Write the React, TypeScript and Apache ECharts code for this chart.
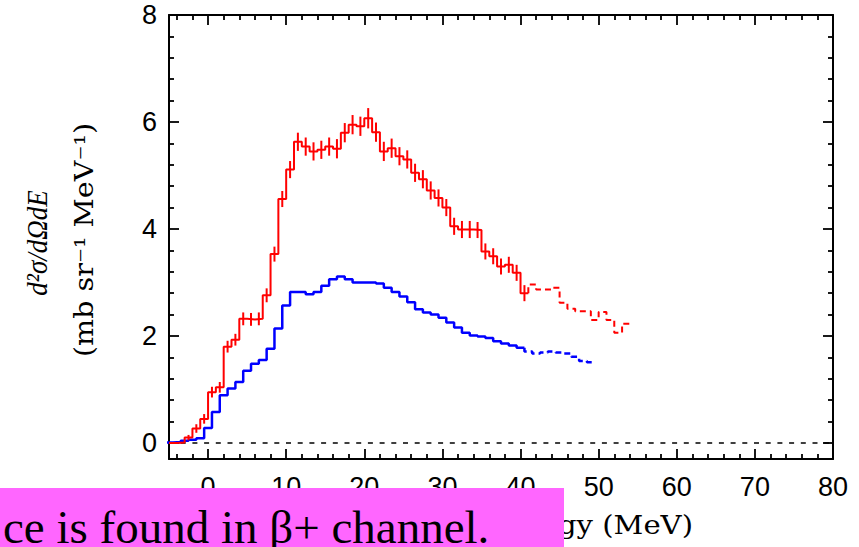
import React, { useEffect, useRef } from "react";
import * as echarts from "echarts";

// Red histogram: 1-MeV bins, each value starts at its lower edge (MeV)
const redFirstEdge = -5;
const redSolidValues = [
  0.0, 0.01, 0.1, 0.27, 0.45, 0.95, 1.04, 1.8, 1.93, 2.32,
  2.31, 2.32, 2.76, 3.53, 4.56, 5.11, 5.63, 5.54, 5.45, 5.48,
  5.54, 5.5, 5.8, 5.95, 5.92, 6.07, 5.81, 5.45, 5.51, 5.36,
  5.3, 5.05, 4.93, 4.72, 4.58, 4.4, 4.05, 3.99, 3.99, 3.98,
  3.58, 3.49, 3.3, 3.33, 3.18, 2.8,
];
const redSolidErrors = [
  0, 0, 0.05, 0.08, 0.09, 0.1, 0.1, 0.11, 0.11, 0.12,
  0.12, 0.12, 0.13, 0.14, 0.15, 0.16, 0.17, 0.17, 0.17, 0.17,
  0.17, 0.18, 0.18, 0.18, 0.18, 0.19, 0.18, 0.18, 0.18, 0.17,
  0.17, 0.17, 0.17, 0.17, 0.16, 0.16, 0.16, 0.16, 0.16, 0.15,
  0.15, 0.15, 0.15, 0.15, 0.15, 0.15,
];
const redDashedFirstEdge = 41;
const redDashedValues = [2.96, 2.87, 2.87, 2.9, 2.62, 2.51, 2.46, 2.46, 2.3, 2.45, 2.3, 2.06, 2.23];

// Blue histogram: 1-MeV bins centred on integer energies (MeV)
const blueFirstCentre = -5;
const blueSolidValues = [
  0.01, 0.02, 0.04, 0.06, 0.09, 0.28, 0.58, 0.89, 1.02, 1.14,
  1.35, 1.48, 1.55, 1.76, 2.14, 2.57, 2.82, 2.82, 2.78, 2.82,
  2.94, 3.06, 3.11, 3.06, 3.0, 3.0, 3.0, 2.98, 2.9, 2.82,
  2.74, 2.63, 2.5, 2.44, 2.4, 2.34, 2.25, 2.16, 2.06, 2.01,
  1.99, 1.96, 1.9, 1.86, 1.82, 1.78,
];
const blueDashedFirstCentre = 41;
const blueDashedValues = [1.71, 1.67, 1.69, 1.71, 1.69, 1.67, 1.61, 1.53, 1.51];

// Axis ticks
const xMajorTicks = [0, 10, 20, 30, 40, 50, 60, 70, 80];
const xMinorTicks = [
  -4, -2, 2, 4, 6, 8, 12, 14, 16, 18, 22, 24, 26, 28, 32, 34, 36, 38,
  42, 44, 46, 48, 52, 54, 56, 58, 62, 64, 66, 68, 72, 74, 76, 78,
];
const yMajorTicks = [0, 2, 4, 6, 8];
const yMinorTicks = [0.4, 0.8, 1.2, 1.6, 2.4, 2.8, 3.2, 3.6, 4.4, 4.8, 5.2, 5.6, 6.4, 6.8, 7.2, 7.6];

const X_MIN = -5;
const X_MAX = 80;
const Y_MIN = -0.3;
const Y_MAX = 8;

// Turn bin values into a stepped outline: [left, v], [right, v] per bin
function stepOutline(firstEdge: number, values: number[]): number[][] {
  const pts: number[][] = [];
  values.forEach((v, i) => {
    const left = firstEdge + i;
    pts.push([left, v], [left + 1, v]);
  });
  return pts;
}

export default function App() {
  const ref = useRef<HTMLDivElement>(null);

  useEffect(() => {
    if (!ref.current) return;
    const chart = echarts.init(ref.current, undefined, { renderer: "svg" });

    const redSolid = stepOutline(redFirstEdge, redSolidValues);
    const redDashed = [
      [redDashedFirstEdge, redSolidValues[redSolidValues.length - 1]],
      ...stepOutline(redDashedFirstEdge, redDashedValues),
    ];
    const blueSolid = stepOutline(blueFirstCentre - 0.5, blueSolidValues);
    const blueDashed = [
      [blueDashedFirstCentre - 0.5, blueSolidValues[blueSolidValues.length - 1]],
      ...stepOutline(blueDashedFirstCentre - 0.5, blueDashedValues),
    ];
    const errorBars = redSolidValues
      .map((v, i) => [redFirstEdge + i + 0.5, v - redSolidErrors[i], v + redSolidErrors[i]])
      .filter((_, i) => redSolidErrors[i] > 0);

    const frame = { show: true, onZero: false, lineStyle: { color: "#000", width: 2 } };
    const noLine = { show: false, onZero: false };
    const majorTick = (vals: number[], len: number) => ({
      show: true,
      inside: true,
      length: len,
      customValues: vals,
      lineStyle: { color: "#000", width: 1.8 },
    });
    const tickFont = { color: "#000", fontSize: 27, fontFamily: "Liberation Sans" };

    const xBase = { type: "value", min: X_MIN, max: X_MAX, splitLine: { show: false } };
    const yBase = { type: "value", min: Y_MIN, max: Y_MAX, splitLine: { show: false } };

    chart.setOption({
      animation: false,
      backgroundColor: "#fff",
      grid: { left: 169, right: 26, top: 15, bottom: 88, containLabel: false },
      xAxis: [
        {
          ...xBase,
          position: "bottom",
          axisLine: frame,
          axisTick: majorTick(xMajorTicks, 10),
          axisLabel: { show: true, customValues: xMajorTicks, margin: 14, ...tickFont },
        },
        {
          ...xBase,
          position: "bottom",
          axisLine: noLine,
          axisTick: majorTick(xMinorTicks, 5),
          axisLabel: { show: false },
        },
        {
          ...xBase,
          position: "top",
          axisLine: frame,
          axisTick: majorTick(xMajorTicks, 10),
          axisLabel: { show: false },
        },
        {
          ...xBase,
          position: "top",
          axisLine: noLine,
          axisTick: majorTick(xMinorTicks, 5),
          axisLabel: { show: false },
        },
      ],
      yAxis: [
        {
          ...yBase,
          position: "left",
          axisLine: frame,
          axisTick: majorTick(yMajorTicks, 10),
          axisLabel: { show: true, customValues: yMajorTicks, margin: 12, ...tickFont },
        },
        {
          ...yBase,
          position: "left",
          axisLine: noLine,
          axisTick: majorTick(yMinorTicks, 5),
          axisLabel: { show: false },
        },
        {
          ...yBase,
          position: "right",
          axisLine: frame,
          axisTick: majorTick(yMajorTicks, 10),
          axisLabel: { show: false },
        },
        {
          ...yBase,
          position: "right",
          axisLine: noLine,
          axisTick: majorTick(yMinorTicks, 5),
          axisLabel: { show: false },
        },
      ],
      series: [
        {
          name: "zero",
          type: "line",
          data: [[X_MIN, 0], [X_MAX, 0]],
          symbol: "none",
          lineStyle: { color: "#000", width: 1.5, type: [5, 6.7] },
          z: 1,
        },
        {
          name: "blue",
          type: "line",
          data: blueSolid,
          symbol: "none",
          lineStyle: { color: "#0000ff", width: 2.5 },
          z: 2,
        },
        {
          name: "blue tail",
          type: "line",
          data: blueDashed,
          symbol: "none",
          lineStyle: { color: "#0000ff", width: 2.5, type: [6, 4] },
          z: 2,
        },
        {
          name: "red",
          type: "line",
          data: redSolid,
          symbol: "none",
          lineStyle: { color: "#ff0000", width: 2 },
          z: 3,
        },
        {
          name: "red tail",
          type: "line",
          data: redDashed,
          symbol: "none",
          lineStyle: { color: "#ff0000", width: 2, type: [6, 4] },
          z: 3,
        },
        {
          name: "red errors",
          type: "custom",
          data: errorBars,
          encode: { x: 0, y: [1, 2] },
          z: 3,
          renderItem: (_params: any, api: any) => {
            const p1 = api.coord([api.value(0), api.value(1)]);
            const p2 = api.coord([api.value(0), api.value(2)]);
            return {
              type: "line",
              shape: { x1: p1[0], y1: p1[1], x2: p2[0], y2: p2[1] },
              style: { stroke: "#ff0000", lineWidth: 2 },
            };
          },
        },
      ],
      graphic: [
        {
          type: "text",
          x: 37,
          y: 243,
          rotation: Math.PI / 2,
          scaleX: 0.9,
          z: 50,
          style: {
            text: "d²σ/dΩdE",
            font: 'italic 30px "Liberation Serif"',
            fill: "#000",
            textAlign: "center",
            textVerticalAlign: "middle",
            verticalAlign: "middle",
          },
        },
        {
          type: "text",
          x: 84,
          y: 240,
          rotation: Math.PI / 2,
          scaleX: 1.1,
          z: 50,
          style: {
            text: "(mb sr⁻¹ MeV⁻¹)",
            font: '26px "DejaVu Serif"',
            fill: "#000",
            textAlign: "center",
            textVerticalAlign: "middle",
            verticalAlign: "middle",
          },
        },
        {
          type: "text",
          x: 693,
          y: 525,
          scaleX: 1.12,
          z: 50,
          style: {
            text: "Excitation energy (MeV)",
            font: '26px "DejaVu Serif"',
            fill: "#000",
            textAlign: "right",
            textVerticalAlign: "middle",
            verticalAlign: "middle",
          },
        },
        {
          type: "rect",
          z: 100,
          shape: { x: 0, y: 488, width: 564, height: 59 },
          style: { fill: "#ff66ff" },
        },
        {
          type: "text",
          x: 3,
          y: 527,
          z: 101,
          style: {
            text: "ce is found in β+ channel.",
            font: '47px "Liberation Serif"',
            fill: "#000",
            textAlign: "left",
            textVerticalAlign: "middle",
            verticalAlign: "middle",
          },
        },
      ],
    });

    return () => chart.dispose();
  }, []);

  return (
    <div
      ref={ref}
      style={{ position: "fixed", left: 0, top: 0, width: 859, height: 547, background: "#fff" }}
    />
  );
}
